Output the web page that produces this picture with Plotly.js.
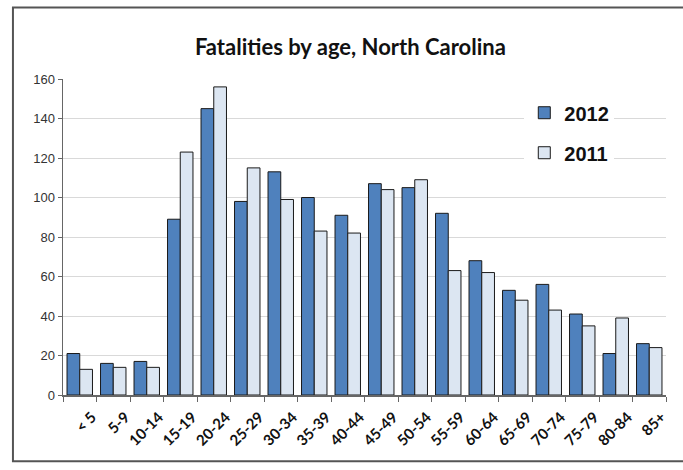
<!DOCTYPE html>
<html>
<head>
<meta charset="utf-8">
<script src="https://cdn.plot.ly/plotly-3.0.1.min.js"></script>
<style>
html,body{margin:0;padding:0;background:#fff;overflow:hidden;}
#chart{width:683px;height:470px;}
</style>
</head>
<body>
<div id="chart"></div>
<script>
const ageGroups = ["< 5","5-9","10-14","15-19","20-24","25-29","30-34","35-39","40-44","45-49","50-54","55-59","60-64","65-69","70-74","75-79","80-84","85+"];
const fat2012 = [21,16,17,89,145,98,113,100,91,107,105,92,68,53,56,41,21,26];
const fat2011 = [13,14,14,123,156,115,99,83,82,104,109,63,62,48,43,35,39,24];
const yTicks = [0,20,40,60,80,100,120,140,160];

const traces = [
  {type:'bar', name:'2012', x:ageGroups, y:fat2012, legendgroup:'a',
   marker:{color:'#4F81BD', line:{color:'#1a1a1a', width:1}}},
  {type:'bar', name:'2011', x:ageGroups, y:fat2011, legendgroup:'b',
   marker:{color:'#DCE6F2', line:{color:'#1a1a1a', width:1}}}
];

const layout = {
  width:683, height:470,
  margin:{l:63, r:17, t:79, b:75},
  paper_bgcolor:'#fff', plot_bgcolor:'#fff',
  barmode:'group', bargap:0.24, bargroupgap:0,
  title:{text:'<b>Fatalities by age, North Carolina</b>', x:0.513, xanchor:'center', y:0.9, yanchor:'middle',
         font:{family:'Lato, "Open Sans", Arial', size:22, color:'#111'}},
  xaxis:{type:'category', tickangle:-45, showgrid:false, showline:true, linecolor:'#666', linewidth:1.5,
         ticks:'outside', ticklen:5, tickcolor:'#666', tickson:'boundaries',
         ticklabelshift:12, ticklabelstandoff:6,
         tickfont:{family:'Lato, "Open Sans", Arial', size:15, color:'#111', weight:'bold'}},
  yaxis:{range:[0,160], autorange:false, tickvals:yTicks, showgrid:true, gridcolor:'#d9d9d9', gridwidth:1,
         showline:true, linecolor:'#666', linewidth:1.5, ticks:'outside', ticklen:4, tickcolor:'#666',
         zeroline:false, tickfont:{family:'"Liberation Sans Narrow", Arial', size:13, color:'#333'}},
  showlegend:true,
  legend:{x:0.765, y:0.955, xanchor:'left', yanchor:'top', bgcolor:'#fff', traceorder:'grouped', tracegroupgap:11,
          itemwidth:30,
          font:{family:'Arial, "Liberation Sans"', size:20, color:'#111', weight:'bold'}, borderwidth:0},
  shapes:[{type:'rect', xref:'paper', yref:'paper', x0:-0.083, x1:1.08, y0:-0.21, y1:1.226,
           line:{color:'#555', width:2}, fillcolor:'rgba(0,0,0,0)', layer:'above'}]
};

Plotly.newPlot('chart', traces, layout, {displayModeBar:false, staticPlot:true});
</script>
</body>
</html>
